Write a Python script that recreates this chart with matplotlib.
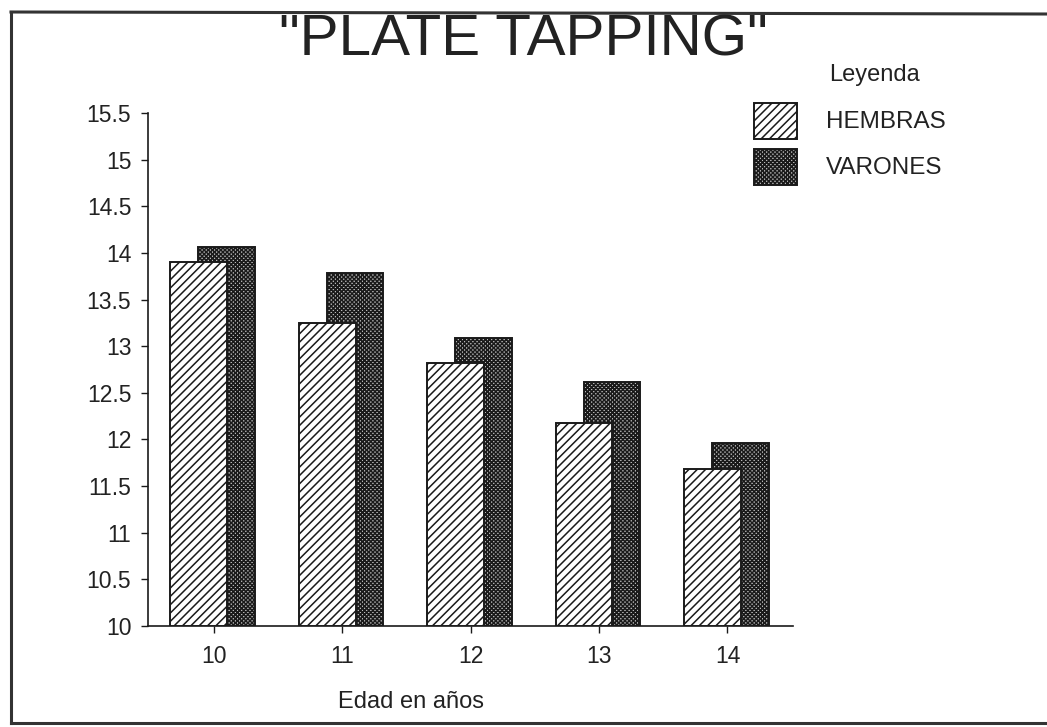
import matplotlib
matplotlib.use("Agg")
import matplotlib.pyplot as plt
from matplotlib.patches import Rectangle
from matplotlib.lines import Line2D
import numpy as np

# Data
edades = [10, 11, 12, 13, 14]
hembras = [13.90, 13.25, 12.82, 12.18, 11.68]
varones = [14.06, 13.78, 13.09, 12.62, 11.96]
yticks = [10, 10.5, 11, 11.5, 12, 12.5, 13, 13.5, 14, 14.5, 15, 15.5]
ytick_labels = ["10", "10.5", "11", "11.5", "12", "12.5", "13", "13.5", "14", "14.5", "15", "15.5"]

plt.rcParams['font.family'] = ['Liberation Sans', 'DejaVu Sans']
plt.rcParams['hatch.linewidth'] = 1.1
plt.rcParams['hatch.color'] = '#1a1a1a'

W, H = 1047, 727
fig = plt.figure(figsize=(W / 100, H / 100), dpi=100)
fig.patch.set_facecolor('white')

def fx(px):
    return px / W

def fy(py):
    return 1 - py / H

ax = fig.add_axes([fx(148), fy(626), fx(793) - fx(148), fy(113) - fy(626)])

x = np.array(edades, dtype=float)
width = 0.44
ink = '#1a1a1a'
hatch_h = '////'
hatch_v = 'xxxxxxxx'

ax.bar(x + 0.10, np.array(varones) - 10, width, bottom=10, facecolor='#bdbdbd',
       edgecolor=ink, linewidth=1.4, hatch=hatch_v, zorder=2)
ax.bar(x - 0.115, np.array(hembras) - 10, width, bottom=10, facecolor='white',
       edgecolor=ink, linewidth=1.4, hatch=hatch_h, zorder=3)

ax.set_xlim(9.49, 14.51)
ax.set_ylim(10, 15.5)
ax.set_yticks(yticks)
ax.set_yticklabels(ytick_labels)
ax.set_xticks(edades)
ax.set_xticklabels([str(e) for e in edades])

for side in ['top', 'right']:
    ax.spines[side].set_visible(False)
ax.spines['left'].set_color(ink)
ax.spines['bottom'].set_color(ink)
ax.spines['left'].set_linewidth(1.2)
ax.spines['bottom'].set_linewidth(1.2)
ax.spines['left'].set_zorder(4)

ax.tick_params(axis='y', direction='out', length=5, width=1.0, color=ink,
               labelsize=16.5, labelcolor='#222222', pad=7)
ax.tick_params(axis='x', direction='out', length=5, width=1.0, color=ink,
               labelsize=16.5, labelcolor='#222222', pad=9)
ax.patch.set_alpha(0)

# Title
fig.text(fx(523), fy(40), '"PLATE TAPPING"', ha='center', va='center',
         fontsize=42, color='#222222')

# X axis caption
fig.text(fx(338), fy(702), 'Edad en años', ha='left', va='center',
         fontsize=17, color='#222222')

# Legend
fig.text(fx(829), fy(75), 'Leyenda', ha='left', va='center',
         fontsize=17, color='#222222')
fig.add_artist(Rectangle((fx(754), fy(139)), fx(43), (139 - 103) / H,
                         transform=fig.transFigure, facecolor='white',
                         edgecolor=ink, linewidth=1.4, hatch=hatch_h))
fig.add_artist(Rectangle((fx(754), fy(185)), fx(43), (185 - 149) / H,
                         transform=fig.transFigure, facecolor='#bdbdbd',
                         edgecolor=ink, linewidth=1.4, hatch=hatch_v))
fig.text(fx(826), fy(122), 'HEMBRAS', ha='left', va='center',
         fontsize=17.5, color='#222222')
fig.text(fx(826), fy(168), 'VARONES', ha='left', va='center',
         fontsize=17.5, color='#222222')

# Page frame (left, top and bottom edges)
frame_kw = dict(transform=fig.transFigure, color='#333333', linewidth=2.2)
fig.add_artist(Line2D([fx(11), fx(11)], [fy(12), fy(723)], **frame_kw))
fig.add_artist(Line2D([fx(11), 1.0], [fy(12), fy(14)], **frame_kw))
fig.add_artist(Line2D([fx(11), 1.0], [fy(723), fy(723)], **frame_kw))

fig.savefig('out.png', dpi=100, facecolor='white')
